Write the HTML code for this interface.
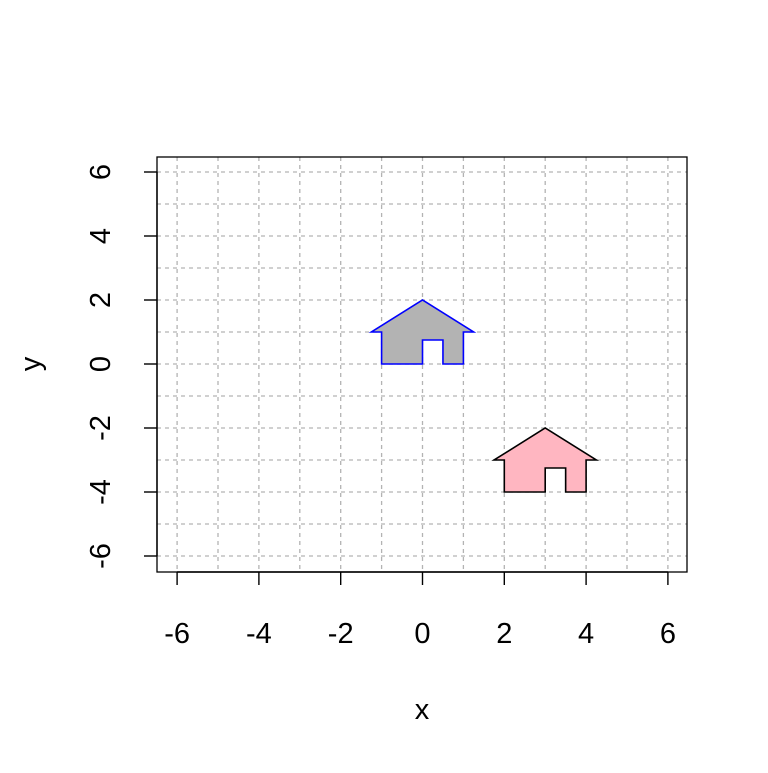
<!DOCTYPE html>
<html><head><meta charset="utf-8"><style>
body{margin:0;background:#fff}
text{font-family:"Liberation Sans",Arial,sans-serif;font-size:29px}
</style></head><body>
<svg width="768" height="768">
<g id="grid"></g>
<rect x="157" y="157" width="530" height="415" fill="none" stroke="#000" stroke-width="1.3"/>
<g id="axes"></g>
<g id="houses"></g>
<text x="422" y="719" text-anchor="middle" style="font-size:29px">x</text>
<text transform="translate(40,364) rotate(-90)" text-anchor="middle" style="font-size:29px">y</text>
</svg>
<script>
const xTicks=[-6,-4,-2,0,2,4,6];
const yTicks=[-6,-4,-2,0,2,4,6];
const gridVals=[-6,-5,-4,-3,-2,-1,0,1,2,3,4,5,6];
const houseX=[-1,-1,-1.25,0,1.25,1,1,0.5,0.5,0,0];
const houseY=[0,1,1,2,1,1,0,0,0.75,0.75,0];
const houseDx=[0,3];
const houseDy=[0,-4];
const houseFill=["#b3b3b3","#ffb6c1"];
const houseStroke=["#0000ff","#000000"];
const sx=v=>422.5+v*40.9, sy=v=>364-v*32;
const NS="http://www.w3.org/2000/svg";
const mk=(t,a,p)=>{const e=document.createElementNS(NS,t);for(const k in a)e.setAttribute(k,a[k]);p.appendChild(e);return e;};
const g=document.getElementById('grid'),ax=document.getElementById('axes'),hs=document.getElementById('houses');
gridVals.forEach(v=>{
 const l=mk('line',{x1:sx(v),x2:sx(v),y1:157,y2:572,stroke:'#b3b3b3','stroke-dasharray':'4,4','stroke-width':1.3},g);
 
 
 const m=mk('line',{x1:157,x2:687,y1:sy(v),y2:sy(v),stroke:'#b3b3b3','stroke-dasharray':'4,4','stroke-width':1.3},g);
 
 
});
mk('line',{x1:sx(-6),x2:sx(6),y1:572,y2:572,stroke:'#000','stroke-width':1.4},ax);
mk('line',{x1:157,x2:157,y1:sy(-6),y2:sy(6),stroke:'#000','stroke-width':1.4},ax);
xTicks.forEach(v=>{
 mk('line',{x1:sx(v),x2:sx(v),y1:572,y2:585,stroke:'#000','stroke-width':1.4},ax);
 const t=mk('text',{x:sx(v),y:643,'text-anchor':'middle',style:'font-size:29px'},ax);t.textContent=v;
 
 
});
yTicks.forEach(v=>{
 mk('line',{x1:144,x2:157,y1:sy(v),y2:sy(v),stroke:'#000','stroke-width':1.4},ax);
 const t=mk('text',{transform:`translate(110,${sy(v)}) rotate(-90)`,'text-anchor':'middle',style:'font-size:29px'},ax);t.textContent=v;
 
 
});
houseDx.forEach((dx,i)=>{
 const pts=houseX.map((x,j)=>sx(x+dx)+','+sy(houseY[j]+houseDy[i])).join(' ');
 const p=mk('polygon',{points:pts,fill:houseFill[i],stroke:houseStroke[i],'stroke-width':1.6},hs);
 
 
});
</script>
</body></html>
